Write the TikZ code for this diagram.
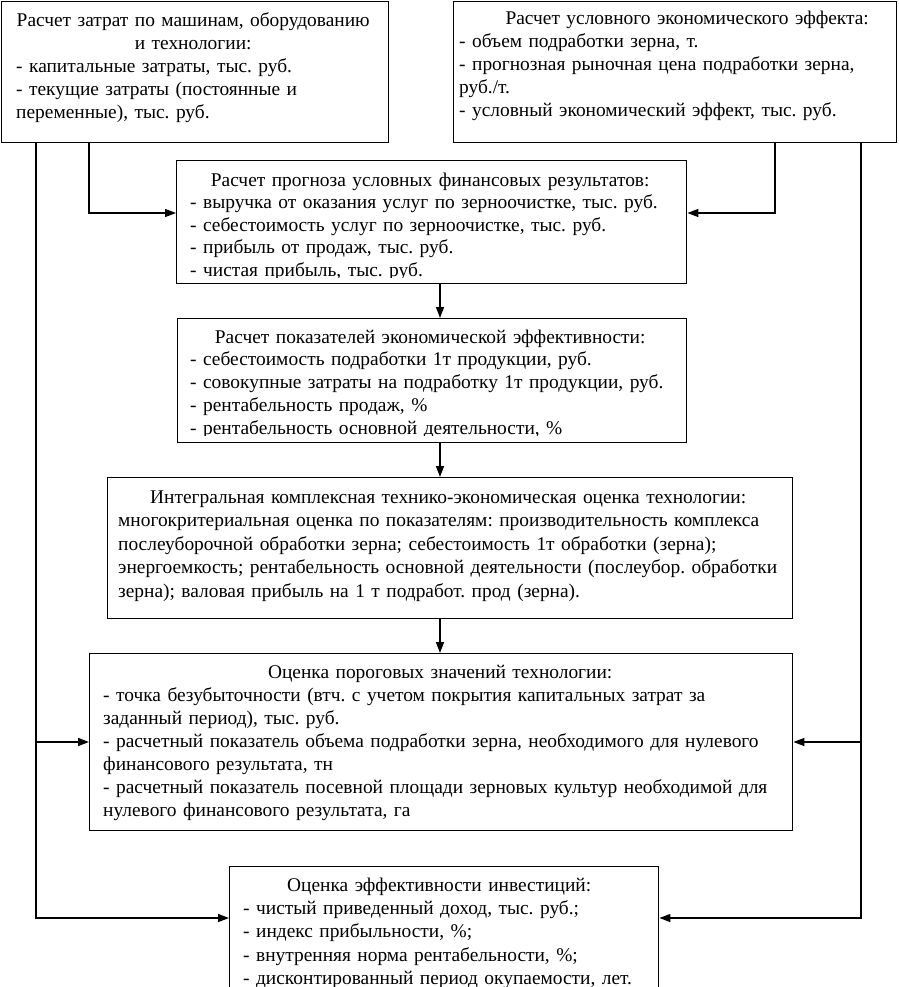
\documentclass[tikz,border=0pt]{standalone}
\usepackage{fontspec}
\setmainfont{Liberation Serif}
\usetikzlibrary{arrows.meta,calc}
\newcommand\fs[1]{\fontsize{19.4}{#1}\selectfont\frenchspacing}
\newcommand\fr{\rule{0pt}{16pt}}
\begin{document}
\begin{tikzpicture}[x=1pt,y=-1pt,
  box/.style={draw, line width=1.4pt, inner sep=0pt, anchor=north west},
  txt/.style={anchor=north west, inner sep=0pt, align=left},
  conn/.style={line width=1.4pt},
  arr/.style={conn, -{Triangle[length=11pt,width=8pt]}}]
\useasboundingbox (0,0) rectangle (898,987);
\clip (0,0) rectangle (898,987);
\fill[white] (0,0) rectangle (898,987);
% boxes
\node[box, minimum width=387pt, minimum height=141pt] (b1) at (1,1) {};
\node[box, minimum width=443pt, minimum height=141pt] (b2) at (453,1) {};
\node[box, minimum width=510pt, minimum height=123pt] (b3) at (176,160) {};
\node[box, minimum width=509pt, minimum height=124pt] (b4) at (177,318) {};
\node[box, minimum width=685pt, minimum height=141pt] (b5) at (107,477) {};
\node[box, minimum width=703pt, minimum height=177pt] (b6) at (89,653) {};
\node[box, minimum width=429pt, minimum height=140pt] (b7) at (229,866) {};
% texts
\node[txt, text width=370pt, font=\fs{23}] (t1) at (16,10) {%
\makebox[354pt][c]{\fr Расчет затрат по машинам, оборудованию}\\
\makebox[354pt][c]{и технологии:}\\
- капитальные затраты, тыс. руб.\\
- текущие затраты (постоянные и\\
переменные), тыс. руб.};
\node[txt, text width=434pt, font=\fs{23.2}] (t2) at (459,8) {%
\makebox[456pt][c]{\fr Расчет условного экономического эффекта:}\\
- объем подработки зерна, т.\\
- прогнозная рыночная цена подработки зерна,\\
руб./т.\\
- условный экономический эффект, тыс. руб.};
\begin{scope}
\clip (176,160) rectangle (686,277.5);
\node[txt, text width=490pt, font=\fs{22.5}] (t3) at (190,170) {%
\makebox[480pt][c]{\fr Расчет прогноза условных финансовых результатов:}\\
- выручка от оказания услуг по зерноочистке, тыс. руб.\\
- себестоимость услуг по зерноочистке, тыс. руб.\\
- прибыль от продаж, тыс. руб.\\
- чистая прибыль, тыс. руб.};
\end{scope}
\begin{scope}
\clip (177,318) rectangle (686,435.5);
\node[txt, text width=490pt, font=\fs{22.75}] (t4) at (190,327) {%
\makebox[480pt][c]{\fr Расчет показателей экономической эффективности:}\\
- себестоимость подработки 1т продукции, руб.\\
- совокупные затраты на подработку 1т продукции, руб.\\
- рентабельность продаж, \%\\
- рентабельность основной деятельности, \%};
\end{scope}
\node[txt, text width=662pt, font=\fs{23.5}] (t5) at (118,487) {%
\hspace*{32pt}\fr Интегральная комплексная технико-экономическая оценка технологии:\\
\makebox[662pt][s]{многокритериальная оценка по показателям: производительность комплекса}\\
\makebox[662pt][s]{послеуборочной обработки зерна; себестоимость 1т обработки (зерна);}\\
\makebox[662pt][s]{энергоемкость; рентабельность основной деятельности (послеубор. обработки}\\
зерна); валовая прибыль на 1 т подработ. прод (зерна).};
\node[txt, text width=700pt, font=\fs{23}] (t6) at (103,662) {%
\makebox[674pt][c]{\fr Оценка пороговых значений технологии:}\\
- точка безубыточности (втч. с учетом покрытия капитальных затрат за\\
заданный период), тыс. руб.\\
- расчетный показатель объема подработки зерна, необходимого для нулевого\\
финансового результата, тн\\
- расчетный показатель посевной площади зерновых культур необходимой для\\
нулевого финансового результата, га};
\node[txt, text width=420pt, font=\fs{23.3}] (t7) at (243,875) {%
\makebox[392pt][c]{\fr Оценка эффективности инвестиций:}\\
- чистый приведенный доход, тыс. руб.;\\
- индекс прибыльности, \%;\\
- внутренняя норма рентабельности, \%;\\
- дисконтированный период окупаемости, лет.};
% guide coordinates
\coordinate (xL) at (36,0);
\coordinate (xL2) at (89,0);
\coordinate (xR2) at (775,0);
\coordinate (xR) at (861,0);
\coordinate (xM) at (440,0);
\coordinate (yA) at (0,213);
\coordinate (yB) at (0,742);
\coordinate (yC) at (0,918);
% connectors
\draw[arr] (b1.south -| xL) -- (xL |- yC) -- (b7.west |- yC);
\draw[arr] (xL |- yB) -- (b6.west |- yB);
\draw[arr] (b1.south -| xL2) -- (xL2 |- yA) -- (b3.west |- yA);
\draw[arr] (b2.south -| xR2) -- (xR2 |- yA) -- (b3.east |- yA);
\draw[arr] (b2.south -| xR) -- (xR |- yC) -- (b7.east |- yC);
\draw[arr] (xR |- yB) -- (b6.east |- yB);
\draw[arr] (b3.south -| xM) -- (b4.north -| xM);
\draw[arr] (b4.south -| xM) -- (b5.north -| xM);
\draw[arr] (b5.south -| xM) -- (b6.north -| xM);
\end{tikzpicture}
\end{document}
